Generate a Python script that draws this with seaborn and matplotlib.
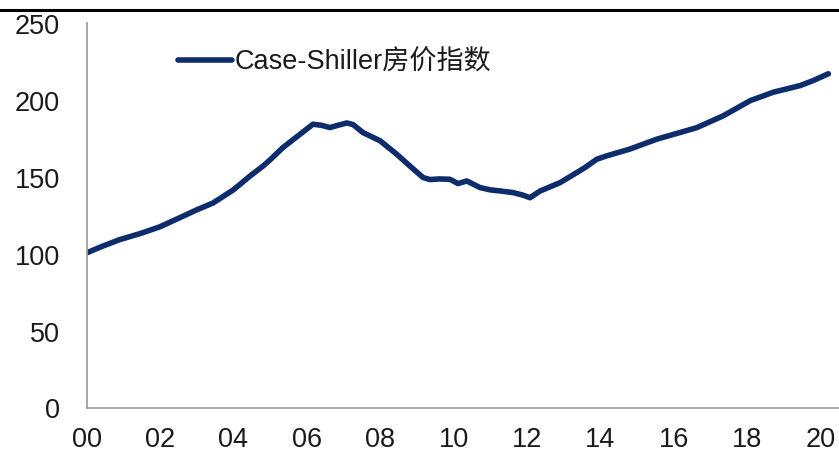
import matplotlib
matplotlib.use("Agg")
import matplotlib.pyplot as plt
from matplotlib.lines import Line2D
import seaborn as sns
import pandas as pd

# Data (decimal year, index value)
years = [2000.0, 2000.45, 2000.91, 2001.45, 2002.0, 2002.55, 2003.0, 2003.45, 2004.0,
         2004.46, 2004.81, 2005.0, 2005.35, 2005.82, 2006.17, 2006.4, 2006.63, 2006.85,
         2007.09, 2007.26, 2007.53, 2008.0, 2008.45, 2008.81, 2009.17, 2009.36, 2009.6,
         2009.9, 2010.12, 2010.36, 2010.72, 2011.0, 2011.27, 2011.63, 2011.9, 2012.08,
         2012.36, 2012.9, 2013.2, 2013.58, 2013.9, 2014.17, 2014.8, 2015.54, 2016.17,
         2016.63, 2017.35, 2018.08, 2018.71, 2019.44, 2019.8, 2020.21]
index_vals = [100.5, 105, 109.2, 113, 117.5, 123.5, 128.5, 133, 141.5,
              150.6, 157, 161, 169, 177.7, 184.2, 183.5, 182, 183.5,
              185, 184, 178.8, 173.4, 164.7, 157, 149.5, 148.2, 148.6,
              148.4, 145.6, 147.3, 143, 141.5, 140.8, 139.7, 138, 136.4,
              140.8, 146.2, 150.5, 156, 161.4, 163.6, 168, 174.5, 178.8,
              182, 189.7, 199.5, 205, 209.3, 212.6, 217]
series_name = "Case-Shiller房价指数"
xtick_pos = [2000, 2002, 2004, 2006, 2008, 2010, 2012, 2014, 2016, 2018, 2020]
xtick_labels = ["00", "02", "04", "06", "08", "10", "12", "14", "16", "18", "20"]
ytick_pos = [0, 50, 100, 150, 200, 250]

df = pd.DataFrame({"year": years, "value": index_vals, "series": series_name})

sns.set_style("white")
plt.rcParams["font.family"] = ["Liberation Sans", "Noto Sans CJK SC", "DejaVu Sans"]

fig = plt.figure(figsize=(8.39, 4.52), dpi=100)
ax = fig.add_axes([86.5 / 839, (452 - 408.5) / 452, (839 - 86.5) / 839, (408.5 - 24) / 452])

sns.lineplot(data=df, x="year", y="value", hue="series", palette=["#0c2c6c"],
             linewidth=4.0, ax=ax, sort=True)
for ln in ax.get_lines():
    ln.set_solid_joinstyle("round")
    ln.set_solid_capstyle("round")

ax.set_xlim(2000, 2020.5)
ax.set_ylim(0, 250)
ax.set_xticks(xtick_pos)
ax.set_xticklabels(xtick_labels)
ax.set_yticks(ytick_pos)
ax.set_xlabel("")
ax.set_ylabel("")

for s in ["top", "right"]:
    ax.spines[s].set_visible(False)
for s in ["left", "bottom"]:
    ax.spines[s].set_color("#a0a0a0")
    ax.spines[s].set_linewidth(1.3)

ax.tick_params(axis="both", which="major", direction="out", length=7, width=1.2,
               color="#a0a0a0", labelsize=19.5, labelcolor="#1a1a1a")
ax.tick_params(axis="y", pad=12)
ax.tick_params(axis="x", pad=6)

leg = ax.legend(loc="center left", bbox_to_anchor=(178 / 839, 1 - 63 / 452),
                bbox_transform=fig.transFigure, frameon=False, fontsize=19.5,
                handlelength=2.0, handletextpad=0.1, borderpad=0, borderaxespad=0)
for t in leg.get_texts():
    t.set_color("#1a1a1a")
for h in leg.get_lines():
    h.set_linewidth(4.0)

# top rule line
fig.add_artist(Line2D([0, 1], [1 - 11 / 452, 1 - 11 / 452], transform=fig.transFigure,
                      color="black", linewidth=2.2))

fig.savefig("out.png", dpi=100)
